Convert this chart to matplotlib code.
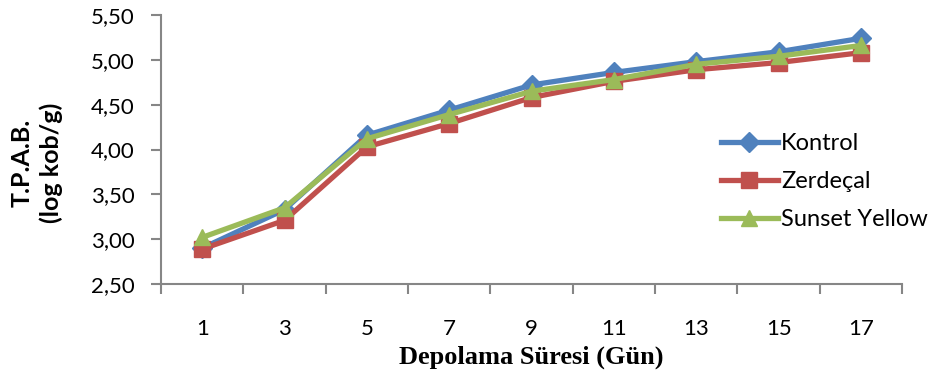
import matplotlib.pyplot as plt
import numpy as np

gun = ['1', '3', '5', '7', '9', '11', '13', '15', '17']
kontrol = [2.90, 3.33, 4.16, 4.44, 4.72, 4.86, 4.98, 5.09, 5.24]
zerdecal = [2.89, 3.21, 4.03, 4.29, 4.58, 4.76, 4.89, 4.97, 5.08]
sunset = [3.02, 3.35, 4.12, 4.39, 4.65, 4.78, 4.95, 5.04, 5.16]

fig = plt.figure(figsize=(9.31, 3.81), dpi=100)
ax = fig.add_axes([0.173, 0.2546, 0.796, 0.706])

x = np.arange(1, len(gun) + 1)
ax.plot(x, kontrol, color='#4F81BD', lw=3.8, marker='D', ms=10, label='Kontrol')
ax.plot(x, zerdecal, color='#C0504D', lw=3.8, marker='s', ms=11, label='Zerdeçal')
ax.plot(x, sunset, color='#9BBB59', lw=3.8, marker='^', ms=12, label='Sunset Yellow')

ax.set_xlim(0.5, len(gun) + 0.5)
ax.set_ylim(2.5, 5.5)
yt = np.arange(2.5, 5.51, 0.5)
ax.set_yticks(yt)
ax.set_yticklabels([f'{v:.2f}'.replace('.', ',') for v in yt], family='Lato', fontsize=16)
ax.set_xticks(x)
ax.set_xticklabels(gun, family='Lato', fontsize=16)
# tick marks sit between the categories, like an Excel category axis
ax.set_xticks(np.arange(0.5, len(gun) + 1), minor=True)
ax.tick_params(axis='x', which='major', length=0, pad=25)
ax.tick_params(axis='x', which='minor', length=7, width=1.5, color='#868686')
ax.tick_params(axis='y', length=7, width=1.5, color='#868686', pad=12)

for s in ['top', 'right']:
    ax.spines[s].set_visible(False)
for s in ['left', 'bottom']:
    ax.spines[s].set_color('#868686')
    ax.spines[s].set_linewidth(1.5)

fig.text(0.040, 1 - 163 / 381, 'T.P.A.B.\n(log kob/g)', family='Lato', fontweight='bold',
         fontsize=18, rotation=90, ha='center', va='center', linespacing=1.3,
         multialignment='center')
ax.set_xlabel('Depolama Süresi (Gün)', family='Liberation Serif', fontweight='bold',
              fontsize=19, labelpad=5)

ax.legend(loc='upper left', bbox_to_anchor=(721 / 931, 1 - 133 / 381),
          bbox_transform=fig.transFigure, frameon=False,
          prop={'family': 'Lato', 'size': 17}, handlelength=2.4, handletextpad=0.15,
          labelspacing=0.72, borderaxespad=0, borderpad=0)

fig.savefig('out.png', dpi=100)
